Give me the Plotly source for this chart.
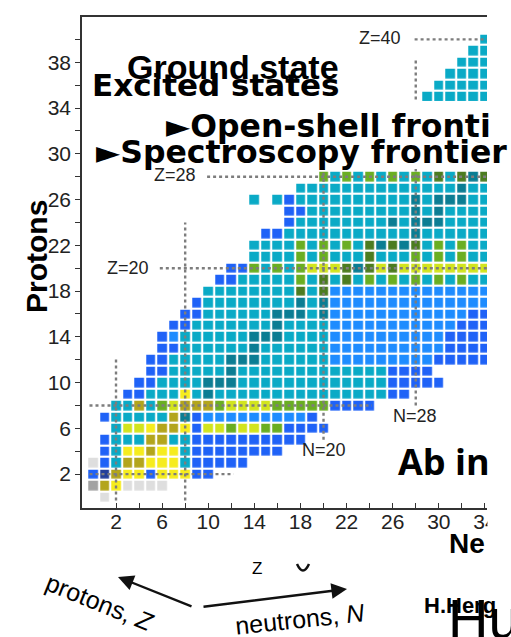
import plotly.graph_objects as go

# ---------------- data ----------------
# colour categories of the nuclide cells
CAT_CODES = ["g", "G", "b", "B", "l", "c", "t", "y", "o", "v", "d", "x"]
CAT_COLORS = ["#dedede", "#a3a3a3", "#1f62f7", "#233f9a", "#1e8cff", "#0aaac6",
              "#0b7d93", "#f6ec1e", "#b3a51c", "#6aae22", "#4c7c20", "#d2e41e"]

# proton number Z -> first neutron number N of the row
ROW_START = [1, 0, 0, 0, 1, 1, 2, 1, 2, 3,
             4, 5, 5, 6, 6, 7, 8, 9, 10, 11,
             12, 14, 14, 15, 17, 17, 14, 18, 20, 0,
             0, 0, 0, 0, 0, 29, 30, 31, 32, 33, 34]
# proton number Z -> category code of each cell, N increasing ("." = no nucleus)
ROW_CODES = [
    "g",
    "Goygggg",
    "bBoyybyyybb",
    "gbcooyyycbbbbb",
    "bcyyoyycbbbbbbbb",
    "bcccooccbbbbbbbbbb",
    "cxxyooybxxvxxvvbbbb",
    "bcccccotblllllllllb",
    "ccocvxooovxxxxvvvvvbbbb",
    "bbcccyctcccccccccccccccbb",
    "bbccccttt" + "ccccccccccccc" + "bbbbb",
    "bbccccc" + "t" + "ccccccccccccc" + "bbbb",
    "bbccccc" + "ttt" + "cccccc" + "lllllllll" + "bbbbb",
    "bbcccccc" + "t" + "cccccc" + "llllllllll" + "bbbb",
    "blcccccc" + "ttt" + "cccc" + "llllllllll" + "bbbb",
    "bbccccccc" + "t" + "cccc" + "lllllllllll" + "bbb",
    "bbcccccc" + "ttt" + "ct" + "llllllllllll" + "bb",
    "bcccccccc" + "tct" + "llllllllllllll",
    "cccccccc" + "dcd" + "llllllllllllll",
    "bbccccc" + "vcdcdcvcvcvcvcvcc",
    "bbvcvcvxxxdtdxd" + "xxxxxxxx",
    "ccccvcvcccdcccvcvcvcc",
    "ccccvcvcvcdtdtdcvcvcc",
    "bb" + "ccccccccccc" + "t" + "cccccc",
    "b" + "cccccccc" + "tcttt" + "cccc",
    "bb" + "ccccccccc" + "tct" + "cccc",
    "c.cb" + "cccccccccc" + "tcttt" + "cc",
    "cccccccccccccc" + "tcc",
    "vcvcvcvcvcdcdtd",
    "", "", "", "", "", "",
    "cccccc",
    "ccccc",
    "cccc",
    "ccc",
    "cc",
    "c",
]

# magic numbers drawn as dotted guide lines
MAGIC_Z = [2, 8, 20, 28, 40]
MAGIC_N = [2, 8, 20, 28]

X_TICKS = list(range(2, 35, 2))
Y_TICKS = list(range(2, 41, 2))

# ---------------- figure geometry ----------------
W, H = 511, 637
ML, MR, MT, MB = 82, 24, 17, 129
PW, PH = W - ML - MR, H - MT - MB


def px2x(px):
    return (px - ML) / PW


def py2y(py):
    return (H - MB - py) / PH


N_MAX, Z_MAX = 34, 40
n_vals = list(range(0, N_MAX + 1))
z_vals = list(range(0, Z_MAX + 1))
zmat = []
for zz in z_vals:
    row = [None] * len(n_vals)
    for k, ch in enumerate(ROW_CODES[zz]):
        n = ROW_START[zz] + k
        if ch != "." and n <= N_MAX:
            row[n] = CAT_CODES.index(ch)
    zmat.append(row)

ncat = len(CAT_COLORS)
cscale = []
for i, c in enumerate(CAT_COLORS):
    cscale.append([i / ncat, c])
    cscale.append([(i + 1) / ncat, c])

fig = go.Figure()
fig.add_trace(go.Heatmap(x=n_vals, y=z_vals, z=zmat, colorscale=cscale,
                         zmin=-0.5, zmax=ncat - 0.5, showscale=False,
                         xgap=2.2, ygap=2.2, hoverinfo="skip"))

# extents of the dotted magic lines (in N / Z units)
H_EXT = {2: (-0.3, 12.2), 8: (-0.3, 24.2), 20: (5.8, 35), 28: (9.9, 35), 40: (27.9, 35)}
V_EXT = {2: (-0.3, 12.2), 8: (-0.3, 24.0), 20: (5.0, 28.8), 28: (8.0, 38.3)}
dot = dict(color="#7d7d7d", width=2.4, dash="3px,3px")
for m in MAGIC_Z:
    a, b = H_EXT[m]
    fig.add_trace(go.Scatter(x=[a, b], y=[m, m], mode="lines", line=dot,
                             hoverinfo="skip", showlegend=False))
for m in MAGIC_N:
    a, b = V_EXT[m]
    fig.add_trace(go.Scatter(x=[m, m], y=[a, b], mode="lines", line=dot,
                             hoverinfo="skip", showlegend=False))

tickfont = dict(family="Liberation Sans, Arial, sans-serif", size=21, color="#222")
fig.update_xaxes(range=[-0.95, 34.18], tickvals=X_TICKS,
                 ticktext=[str(v) if v % 4 == 2 else "" for v in X_TICKS],
                 ticks="inside", ticklen=5, tickwidth=1.4, tickcolor="#333",
                 ticklabelstandoff=-6,
                 showline=True, linecolor="#333", linewidth=1.6, mirror=True,
                 showgrid=False, zeroline=False, tickfont=tickfont)
fig.update_yaxes(range=[-0.96, 41.96], tickvals=Y_TICKS,
                 ticktext=[str(v) if v % 4 == 2 else "" for v in Y_TICKS],
                 ticks="outside", ticklen=5, tickwidth=1.4, tickcolor="#333",
                 showline=True, linecolor="#333", linewidth=1.6, mirror=False,
                 showgrid=False, zeroline=False, tickfont=tickfont)

shapes = [
    # white block hiding the middle of the chart behind the headline text
    dict(type="rect", xref="paper", yref="paper", x0=px2x(84), x1=px2x(489),
         y0=py2y(169), y1=py2y(101), fillcolor="white", line=dict(width=0),
         layer="above"),
    # white strip cutting the chart at its right edge
    dict(type="rect", xref="paper", yref="paper", x0=px2x(487.5), x1=px2x(515),
         y0=py2y(560), y1=py2y(0), fillcolor="white", line=dict(width=0),
         layer="above"),
    # bottom of a clipped glyph
    dict(type="path", xref="paper", yref="paper",
         path="M %f %f Q %f %f %f %f" % (px2x(297), py2y(564), px2x(303), py2y(577),
                                         px2x(309), py2y(564)),
         line=dict(color="#111", width=2.5)),
]

ann = []


def text(s, px, py, size, family="Liberation Sans", xanchor="left", angle=0,
         color="#000", yanchor="middle"):
    ann.append(dict(text=s, x=px2x(px), y=py2y(py), xref="paper", yref="paper",
                    xanchor=xanchor, yanchor=yanchor, showarrow=False,
                    textangle=angle,
                    font=dict(family=family, size=size, color=color)))


small = "Liberation Sans"
text("Z=40", 380, 38, 18, small, "center", color="#222")
text("Z=28", 175, 175, 18, small, "center", color="#222")
text("Z=20", 128, 268, 18, small, "center", color="#222")
text("N=20", 324, 450, 18, small, "center", color="#222")
text("N=28", 415, 416, 18, small, "center", color="#222")

text("<b>Protons</b>", 36, 257, 30, small, "center", angle=-90)
text("<b>Ne</b>", 447, 543, 28, small, "left")
text("<b>Ab in</b>", 396, 461, 36, "Open Sans", "left")

text("<b>Ground state</b>", 125, 67, 34, small, "left")
text("<b>Excited states</b>", 90, 85, 31, "DejaVu Sans", "left")
text("<b>►Open-shell fronti</b>", 164, 126, 31.5, "DejaVu Sans", "left")
text("<b>►Spectroscopy frontier</b>", 94, 152, 31.5, "DejaVu Sans", "left")

text("Z", 257, 568, 17, small, "center")
text("protons, <i>Z</i>", 99, 602, 25, small, "center", angle=22)
text("neutrons, <i>N</i>", 300, 619, 25, small, "center", angle=-6)
text("Hu", 446, 618, 56, small, "left")
text("<b>H.Herg</b>", 422, 605, 22, small, "left")

# arrows of the N/Z sketch
ann.append(dict(x=px2x(118), y=py2y(577), xref="paper", yref="paper",
                ax=75, ay=30, text="", showarrow=True, arrowhead=2,
                arrowsize=1.3, arrowwidth=2.4, arrowcolor="#111"))
ann.append(dict(x=px2x(347), y=py2y(589), xref="paper", yref="paper",
                ax=-145, ay=18, text="", showarrow=True, arrowhead=2,
                arrowsize=1.3, arrowwidth=2.4, arrowcolor="#111"))

fig.update_layout(width=W, height=H, margin=dict(l=ML, r=MR, t=MT, b=MB),
                  paper_bgcolor="white", plot_bgcolor="white",
                  shapes=shapes, annotations=ann, showlegend=False)

fig.write_html("out.html")
